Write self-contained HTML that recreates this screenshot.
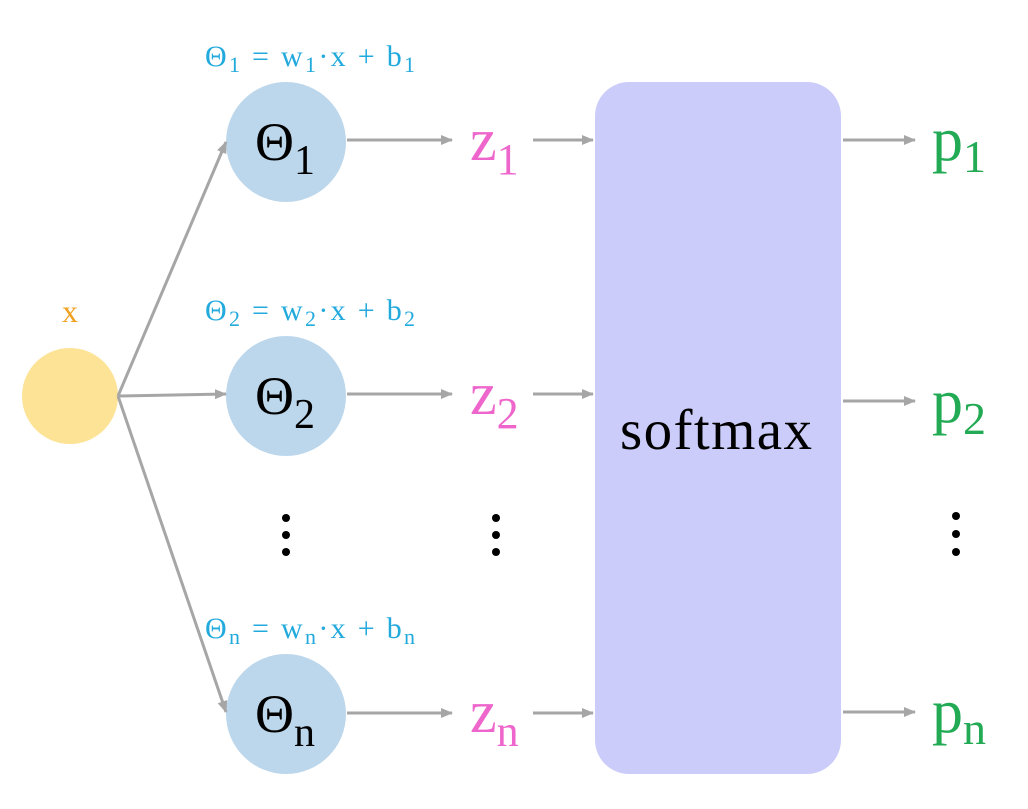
<!DOCTYPE html>
<html><head><meta charset="utf-8"><style>
html,body{margin:0;padding:0;background:#fff;width:1028px;height:809px;overflow:hidden}
text{font-family:"Liberation Serif",serif}
</style></head><body>
<svg width="1028" height="809" viewBox="0 0 1028 809" xmlns="http://www.w3.org/2000/svg">
<defs><marker id="a" markerWidth="12" markerHeight="10" refX="11" refY="5" orient="auto" markerUnits="userSpaceOnUse"><path d="M0,0 L12,5 L0,10 Z" fill="#a6a6a6"/></marker></defs>
<rect x="595" y="82" width="246" height="692" rx="34" fill="#ccccfa"/>
<circle cx="70" cy="396" r="48" fill="#fde396"/>
<circle cx="286" cy="142" r="60" fill="#bcd7ec"/>
<circle cx="286" cy="396" r="60" fill="#bcd7ec"/>
<circle cx="286" cy="714" r="60" fill="#bcd7ec"/>
<g stroke="#a6a6a6" stroke-width="3" fill="none" marker-end="url(#a)">
<line x1="118" y1="396" x2="226" y2="142"/>
<line x1="118" y1="396" x2="226" y2="394"/>
<line x1="118" y1="396" x2="226" y2="712"/>
<line x1="347" y1="140" x2="452" y2="140"/>
<line x1="347" y1="394" x2="452" y2="394"/>
<line x1="347" y1="713" x2="452" y2="713"/>
<line x1="533" y1="140" x2="593" y2="140"/>
<line x1="533" y1="394" x2="593" y2="394"/>
<line x1="533" y1="713" x2="593" y2="713"/>
<line x1="843" y1="140" x2="915" y2="140"/>
<line x1="843" y1="401" x2="915" y2="401"/>
<line x1="843" y1="712" x2="915" y2="712"/>
</g>
<text x="70" y="322" font-size="32" fill="#f0a020" text-anchor="middle">x</text>
<g font-size="30" fill="#22aadd">
<text x="205" y="66" textLength="210">Θ<tspan font-size="22" dy="6">1</tspan><tspan dy="-6"> = w</tspan><tspan font-size="22" dy="6">1</tspan><tspan dy="-6">·x + b</tspan><tspan font-size="22" dy="6">1</tspan></text>
<text x="205" y="320" textLength="210">Θ<tspan font-size="22" dy="6">2</tspan><tspan dy="-6"> = w</tspan><tspan font-size="22" dy="6">2</tspan><tspan dy="-6">·x + b</tspan><tspan font-size="22" dy="6">2</tspan></text>
<text x="205" y="638" textLength="210">Θ<tspan font-size="22" dy="6">n</tspan><tspan dy="-6"> = w</tspan><tspan font-size="22" dy="6">n</tspan><tspan dy="-6">·x + b</tspan><tspan font-size="22" dy="6">n</tspan></text>
</g>
<g font-size="54" fill="#000">
<text x="255" y="160">Θ<tspan font-size="42" dy="14">1</tspan></text>
<text x="255" y="414">Θ<tspan font-size="42" dy="14">2</tspan></text>
<text x="255" y="732">Θ<tspan font-size="42" dy="14">n</tspan></text>
</g>
<g font-size="60" fill="#ee66cc">
<text x="470" y="160">z<tspan font-size="44" dy="14">1</tspan></text>
<text x="470" y="414">z<tspan font-size="44" dy="14">2</tspan></text>
<text x="470" y="732">z<tspan font-size="44" dy="14">n</tspan></text>
</g>
<g font-size="62" fill="#22aa55">
<text x="932" y="160">p<tspan font-size="46" dy="12">1</tspan></text>
<text x="932" y="422">p<tspan font-size="46" dy="12">2</tspan></text>
<text x="932" y="732">p<tspan font-size="46" dy="12">n</tspan></text>
</g>
<text x="620" y="449" font-size="57" fill="#000" textLength="192">softmax</text>
<g fill="#000">
<circle cx="286" cy="518" r="4"/><circle cx="286" cy="535" r="4"/><circle cx="286" cy="552" r="4"/>
<circle cx="496" cy="518" r="4"/><circle cx="496" cy="535" r="4"/><circle cx="496" cy="552" r="4"/>
<circle cx="956" cy="516" r="4"/><circle cx="956" cy="534" r="4"/><circle cx="956" cy="552" r="4"/>
</g>
</svg>
</body></html>
